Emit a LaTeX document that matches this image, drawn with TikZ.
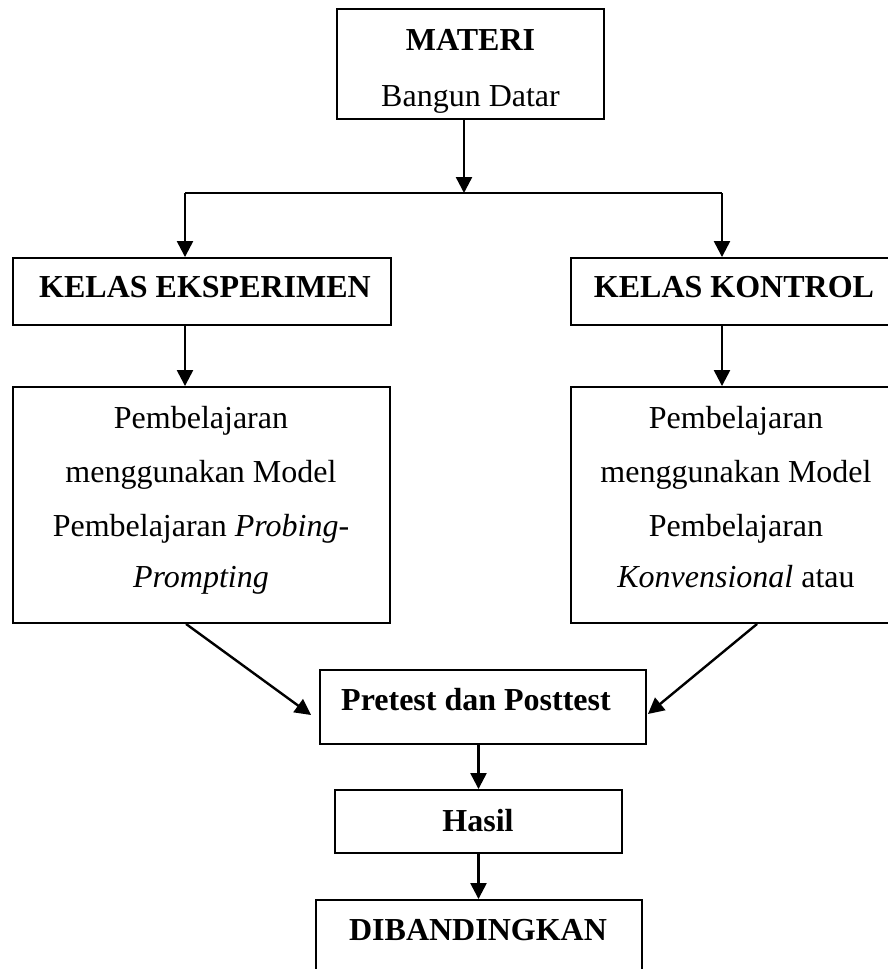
\documentclass[tikz,border=0pt]{standalone}
\usepackage{fontspec}
\setmainfont{Liberation Serif}
\usetikzlibrary{arrows.meta,calc}

\tikzset{
  box/.style={draw, line width=1.9pt, inner sep=0pt, fill=none},
  txt/.style={anchor=base, inner sep=0pt, font=\fontsize{32}{32}\selectfont},
  btxt/.style={txt, font=\fontsize{32}{32}\selectfont\bfseries},
  link/.style={line width=2.4pt},
  arr/.style={line width=2.4pt, -{Triangle[length=16pt,width=16pt]}}
}

\begin{document}
\begin{tikzpicture}[x=1pt, y=-1pt]
  \useasboundingbox (0,0) rectangle (888,969);
  \fill[white] (0,0) rectangle (888,969);
  \clip (0,0) rectangle (888,969);

  % boxes
  \node[box, minimum width=267pt, minimum height=110pt] (materi)  at (470.5,64)  {};
  \node[box, minimum width=378pt, minimum height=67pt]  (ke)      at (202,291.5) {};
  \node[box, minimum width=330pt, minimum height=67pt]  (kk)      at (736,291.5) {};
  \node[box, minimum width=377pt, minimum height=236pt] (pe)      at (201.5,505) {};
  \node[box, minimum width=330pt, minimum height=236pt] (pk)      at (736,505)   {};
  \node[box, minimum width=326pt, minimum height=74pt]  (pre)     at (483,707)   {};
  \node[box, minimum width=287pt, minimum height=63pt]  (hasil)   at (478.5,821.5) {};
  \node[box, minimum width=326pt, minimum height=100pt] (banding) at (479,950)   {};

  % texts
  \node[btxt] (t1) at (470.5,50) {MATERI};
  \node[txt]  (t2) at (470.5,106) {Bangun Datar};
  \node[btxt] (t3) at (205,297) {KELAS EKSPERIMEN};
  \node[btxt] (t4) at (734,297) {KELAS KONTROL};

  \node[txt] (pe1) at (201,428) {Pembelajaran};
  \node[txt] (pe2) at (201,482) {menggunakan Model};
  \node[txt] (pe3) at (201,536) {Pembelajaran \textit{Probing-}};
  \node[txt] (pe4) at (201,587) {\textit{Prompting}};

  \node[txt] (pk1) at (736,428) {Pembelajaran};
  \node[txt] (pk2) at (736,482) {menggunakan Model};
  \node[txt] (pk3) at (736,536) {Pembelajaran};
  \node[txt] (pk4) at (736,587) {\textit{Konvensional} atau};

  \node[btxt] (t5) at (476,710) {Pretest dan Posttest};
  \node[btxt] (t6) at (478,831) {Hasil};
  \node[btxt] (t7) at (478,940) {DIBANDINGKAN};

  % connectors
  \coordinate (split) at (464,193);
  \coordinate (l) at (185,193);
  \coordinate (r) at (722,193);

  \draw[arr] (split |- materi.south) -- (split);
  \draw[link] (l) -- (r);
  \draw[arr] (l) -- (l |- ke.north);
  \draw[arr] (r) -- (r |- kk.north);
  \draw[arr] (l |- ke.south) -- (l |- pe.north);
  \draw[arr] (r |- kk.south) -- (r |- pk.north);

  \draw[arr] ($(pe.south west)+(174,0)$) -- ($(pre.west)+(-8,8)$);
  \draw[arr] ($(pk.south west)+(187,0)$) -- ($(pre.east)+(1,7)$);

  \draw[arr] (hasil.north |- pre.south) -- (hasil.north);
  \draw[arr] (hasil.south) -- (hasil.south |- banding.north);
\end{tikzpicture}
\end{document}
